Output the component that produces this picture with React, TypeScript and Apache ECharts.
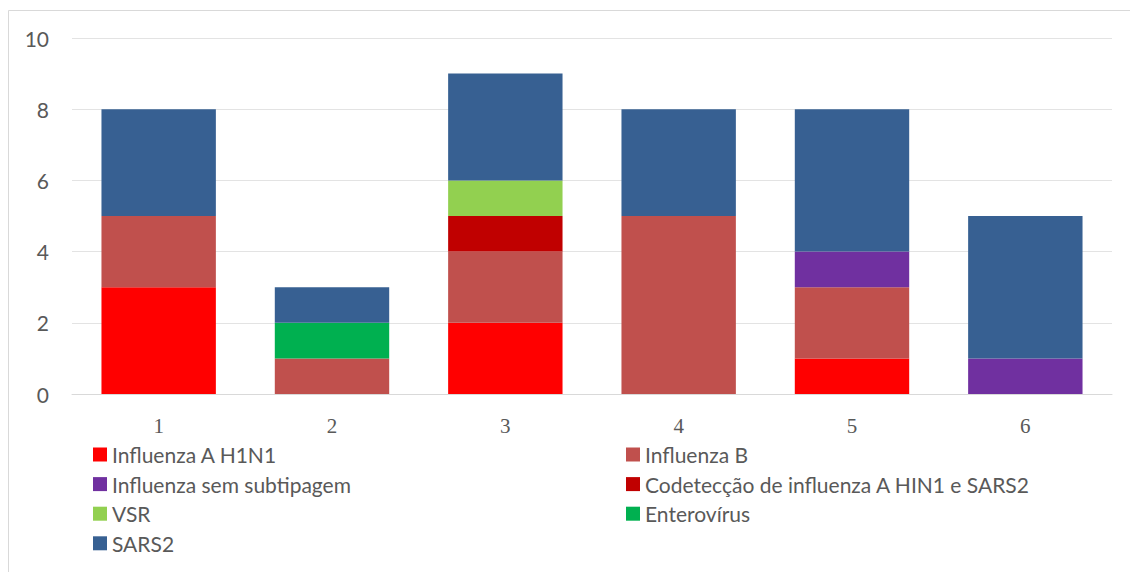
import React, { useEffect, useRef } from "react";
import * as echarts from "echarts";

const categories = ["1", "2", "3", "4", "5", "6"];
const seriesNames = [
  "Influenza A H1N1",
  "Influenza B",
  "Influenza sem subtipagem",
  "Codetecção de influenza A HIN1 e SARS2",
  "VSR",
  "Enterovírus",
  "SARS2",
];
const h1n1 = [3, 0, 2, 0, 1, 0];
const influenzaB = [2, 1, 2, 5, 2, 0];
const semSubtipagem = [0, 0, 0, 0, 1, 1];
const codeteccao = [0, 0, 1, 0, 0, 0];
const vsr = [0, 0, 1, 0, 0, 0];
const enterovirus = [0, 1, 0, 0, 0, 0];
const sars2 = [3, 1, 3, 3, 4, 4];
const colors = ["#FF0000", "#C0504D", "#7030A0", "#C00000", "#92D050", "#00B050", "#376092"];
const yTicks = [0, 2, 4, 6, 8, 10];

export default function App() {
  const ref = useRef<HTMLDivElement>(null);
  useEffect(() => {
    document.body.style.margin = "0";
    const chart = echarts.init(ref.current!, undefined, { renderer: "svg" });
    const values = [h1n1, influenzaB, semSubtipagem, codeteccao, vsr, enterovirus, sars2];
    const legendText = {
      color: "#595959",
      fontSize: 21,
      fontFamily: "Lato, sans-serif",
      lineHeight: 20,
    };
    chart.setOption({
      animation: false,
      backgroundColor: "#ffffff",
      graphic: [
        {
          type: "rect",
          shape: { x: 8.5, y: 10.5, width: 1300, height: 700 },
          style: { fill: "none", stroke: "#d9d9d9", lineWidth: 1 },
          silent: true,
        },
      ],
      grid: { left: 72, right: 18, top: 38, bottom: 178 },
      xAxis: {
        type: "category",
        data: categories,
        axisLine: { lineStyle: { color: "#d9d9d9", width: 1 } },
        axisTick: { show: false },
        axisLabel: {
          color: "#595959",
          fontSize: 21,
          fontFamily: "'Liberation Serif', serif",
          margin: 21,
        },
      },
      yAxis: {
        type: "value",
        min: yTicks[0],
        max: yTicks[yTicks.length - 1],
        interval: 2,
        axisLine: { show: false },
        axisTick: { show: false },
        splitLine: { lineStyle: { color: "#e3e3e3", width: 1 } },
        axisLabel: {
          color: "#595959",
          fontSize: 21,
          fontFamily: "Lato, sans-serif",
          margin: 23,
        },
      },
      legend: [
        {
          left: 93,
          top: 444,
          padding: 0,
          orient: "vertical",
          icon: "rect",
          itemWidth: 14,
          itemHeight: 14,
          itemGap: 8.6,
          textStyle: legendText,
          data: [seriesNames[0], seriesNames[2], seriesNames[4], seriesNames[6]],
        },
        {
          left: 626,
          top: 444,
          padding: 0,
          orient: "vertical",
          icon: "rect",
          itemWidth: 14,
          itemHeight: 14,
          itemGap: 8.6,
          textStyle: legendText,
          data: [seriesNames[1], seriesNames[3], seriesNames[5]],
        },
      ],
      series: seriesNames.map((name, i) => ({
        name,
        type: "bar",
        stack: "total",
        barWidth: "66%",
        data: values[i],
        itemStyle: { color: colors[i] },
      })),
    });
    return () => chart.dispose();
  }, []);
  return <div ref={ref} style={{ width: 1130, height: 572, overflow: "hidden" }} />;
}
